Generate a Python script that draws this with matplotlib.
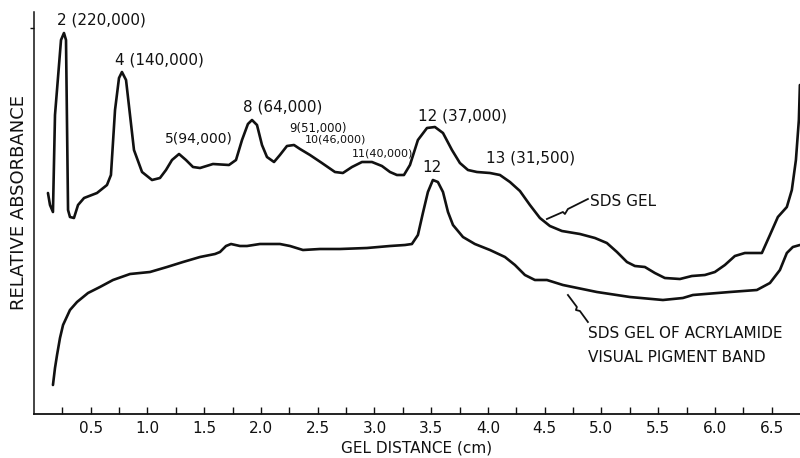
import matplotlib
matplotlib.use("Agg")
import matplotlib.pyplot as plt
import numpy as np

# ---- data ----
sds_x = [0.123, 0.141, 0.167, 0.185, 0.238, 0.264, 0.282, 0.300, 0.317, 0.352, 0.388, 0.441,
         0.555, 0.643, 0.678, 0.714, 0.749, 0.775, 0.811, 0.846, 0.881, 0.952, 1.040, 1.110,
         1.163, 1.216, 1.278, 1.339, 1.401, 1.463, 1.577, 1.718, 1.780, 1.833, 1.885, 1.921,
         1.965, 2.009, 2.053, 2.115, 2.167, 2.229, 2.291, 2.344, 2.432, 2.537, 2.652, 2.722,
         2.802, 2.890, 2.978, 3.066, 3.137, 3.198, 3.260, 3.313, 3.383, 3.463, 3.533, 3.604,
         3.683, 3.753, 3.824, 3.903, 4.018, 4.106, 4.194, 4.282, 4.370, 4.458, 4.546, 4.652,
         4.811, 4.943, 5.048, 5.137, 5.225, 5.295, 5.383, 5.471, 5.559, 5.692, 5.797, 5.912,
         6.000, 6.088, 6.176, 6.264, 6.414, 6.485, 6.555, 6.634, 6.678, 6.714, 6.740, 6.749]
sds_y = [2.21, 2.09, 2.02, 2.99, 3.74, 3.81, 3.74, 2.04, 1.97, 1.96, 2.09, 2.16,
         2.21, 2.29, 2.39, 3.04, 3.36, 3.42, 3.34, 2.99, 2.64, 2.42, 2.34, 2.36,
         2.44, 2.54, 2.60, 2.54, 2.47, 2.46, 2.50, 2.49, 2.54, 2.74, 2.90, 2.94,
         2.89, 2.69, 2.57, 2.52, 2.59, 2.68, 2.69, 2.65, 2.59, 2.51, 2.42, 2.41,
         2.47, 2.52, 2.52, 2.48, 2.42, 2.39, 2.39, 2.49, 2.74, 2.86, 2.87, 2.81,
         2.64, 2.51, 2.44, 2.42, 2.41, 2.39, 2.32, 2.23, 2.09, 1.96, 1.88, 1.83,
         1.80, 1.76, 1.71, 1.62, 1.52, 1.48, 1.47, 1.41, 1.36, 1.35, 1.38, 1.39,
         1.42, 1.49, 1.58, 1.61, 1.61, 1.79, 1.97, 2.07, 2.24, 2.54, 2.94, 3.29]

acr_x = [0.167, 0.185, 0.203, 0.229, 0.256, 0.317, 0.379, 0.476, 0.581, 0.696, 0.846, 1.022,
         1.172, 1.313, 1.463, 1.595, 1.639, 1.692, 1.736, 1.815, 1.877, 1.991, 2.167, 2.256,
         2.370, 2.520, 2.696, 2.934, 3.137, 3.269, 3.330, 3.383, 3.427, 3.471, 3.515, 3.559,
         3.604, 3.648, 3.692, 3.780, 3.885, 4.018, 4.150, 4.238, 4.326, 4.414, 4.520, 4.661,
         4.960, 5.251, 5.542, 5.718, 5.806, 6.132, 6.370, 6.485, 6.573, 6.634, 6.687, 6.749]
acr_y = [0.29, 0.46, 0.59, 0.76, 0.89, 1.04, 1.12, 1.21, 1.27, 1.34, 1.40, 1.42,
         1.47, 1.52, 1.57, 1.60, 1.62, 1.68, 1.70, 1.68, 1.68, 1.70, 1.70, 1.68,
         1.64, 1.65, 1.65, 1.66, 1.68, 1.69, 1.70, 1.79, 2.01, 2.22, 2.34, 2.32,
         2.22, 2.02, 1.89, 1.77, 1.70, 1.64, 1.57, 1.49, 1.39, 1.34, 1.34, 1.29,
         1.22, 1.17, 1.14, 1.16, 1.19, 1.22, 1.24, 1.31, 1.44, 1.61, 1.67, 1.69]

tick_values = [0.5, 1.0, 1.5, 2.0, 2.5, 3.0, 3.5, 4.0, 4.5, 5.0, 5.5, 6.0, 6.5]
tick_labels = ["0.5", "1.0", "1.5", "2.0", "2.5", "3.0", "3.5", "4.0", "4.5", "5.0", "5.5", "6.0", "6.5"]

peak_labels = ["2 (220,000)", "4 (140,000)", "5(94,000)", "8 (64,000)", "9(51,000)",
               "10(46,000)", "11(40,000)", "12 (37,000)", "13 (31,500)"]

# ---- figure ----
fig = plt.figure(figsize=(8.0, 4.58), dpi=100)
ax = fig.add_axes([34 / 800, 44 / 458, 766 / 800, 402 / 458])
ink = "#111111"

ax.plot(sds_x, sds_y, color=ink, lw=1.9, solid_joinstyle="round", solid_capstyle="round")
ax.plot(acr_x, acr_y, color=ink, lw=1.9, solid_joinstyle="round", solid_capstyle="round")

ax.set_xlim(0, 6.75)
ax.set_ylim(0, 4.02)

for s in ["top", "right"]:
    ax.spines[s].set_visible(False)
ax.spines["left"].set_color(ink)
ax.spines["bottom"].set_color(ink)
ax.spines["left"].set_linewidth(1.1)
ax.spines["bottom"].set_linewidth(1.3)

ax.set_xticks(tick_values)
ax.set_xticklabels(tick_labels, fontsize=11, color=ink)
ax.set_xticks(np.arange(0.25, 6.75, 0.5), minor=True)
ax.tick_params(axis="x", which="both", direction="in", length=5, width=1.0, color=ink, pad=5)
ax.set_yticks([3.86])
ax.set_yticklabels([""])
ax.tick_params(axis="y", direction="out", length=3, width=1.0, color=ink)

ax.set_xlabel("GEL DISTANCE (cm)", fontsize=11, color=ink, labelpad=3)
ax.set_ylabel("RELATIVE ABSORBANCE", fontsize=13, color=ink)
ax.yaxis.set_label_coords(-0.008, 0.527)

# ---- annotations ----
def px(xp, yp):
    return (xp - 34) / 113.5, (414 - yp) / 100.0

ann = [
    (peak_labels[0], 57, 20, 11),
    (peak_labels[1], 115, 60, 11),
    (peak_labels[2], 165, 139, 10),
    (peak_labels[3], 243, 107, 11),
    (peak_labels[4], 289, 129, 8.5),
    (peak_labels[5], 305, 140, 8),
    (peak_labels[6], 352, 154, 8),
    (peak_labels[7], 418, 116, 11),
    (peak_labels[8], 486, 158, 11),
]
for txt, xp, yp, fs in ann:
    x, y = px(xp, yp)
    ax.text(x, y, txt, fontsize=fs, color=ink, ha="left", va="center")

x, y = px(432, 168)
ax.text(x, y, "12", fontsize=11, color=ink, ha="center", va="center")

x, y = px(590, 201)
ax.text(x, y, "SDS GEL", fontsize=11, color=ink, ha="left", va="center")
x, y = px(588, 334)
ax.text(x, y, "SDS GEL OF ACRYLAMIDE", fontsize=11, color=ink, ha="left", va="center")
x, y = px(588, 357)
ax.text(x, y, "VISUAL PIGMENT BAND", fontsize=11, color=ink, ha="left", va="center")

# lightning-style pointer lines
z1 = [px(547, 219), px(563, 212), px(565, 214), px(568, 209), px(588, 199)]
ax.plot([p[0] for p in z1], [p[1] for p in z1], color=ink, lw=1.3)
z2 = [px(568, 295), px(577, 307), px(576, 310), px(580, 311), px(588, 322)]
ax.plot([p[0] for p in z2], [p[1] for p in z2], color=ink, lw=1.3)

fig.savefig("out.png", dpi=100)
